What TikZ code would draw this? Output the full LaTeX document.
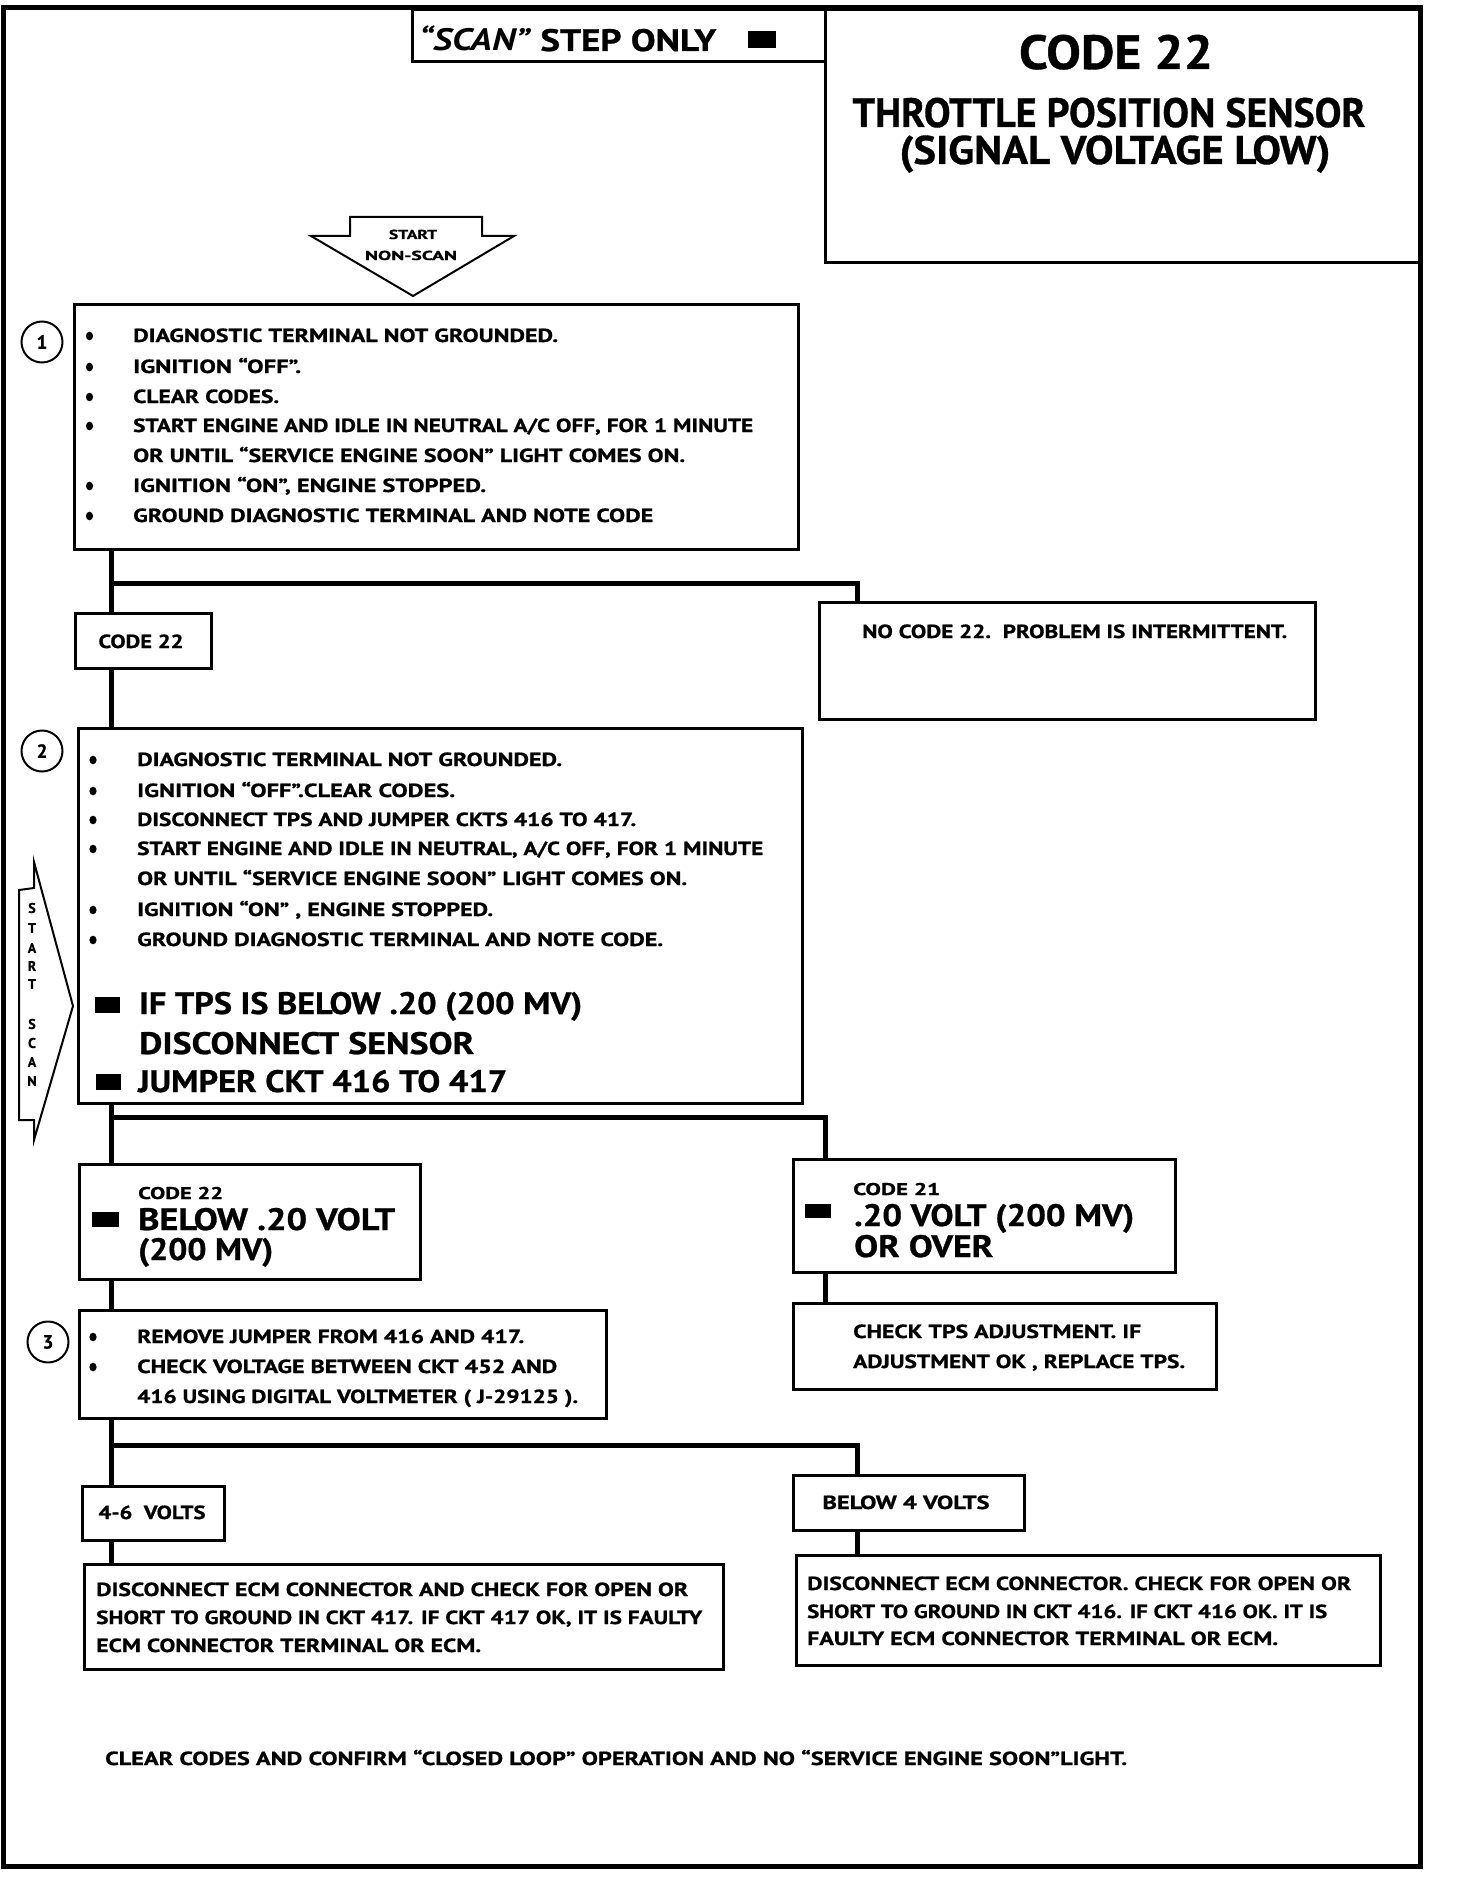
\documentclass[tikz,border=0pt]{standalone}
\usepackage{fontspec}
\setmainfont{PT Sans}[BoldFeatures={FakeBold=0.8}]
\usepackage{graphicx}
\newcommand\fw[2]{\resizebox{#1pt}{\height}{#2}}
\tikzset{
  box/.style={draw, line width=3pt, rectangle, anchor=north west, inner sep=0pt},
  conn/.style={line width=5pt, line cap=rect, line join=miter},
  txt/.style={anchor=base west, inner sep=0pt, font=\bfseries\fontsize{19}{22}\selectfont},
  ctxt/.style={anchor=base, inner sep=0pt, font=\bfseries\fontsize{19}{22}\selectfont},
  small/.style={anchor=base west, inner sep=0pt, font=\bfseries\fontsize{17}{20}\selectfont},
  big/.style={anchor=base west, inner sep=0pt, font=\bfseries\fontsize{31}{36}\selectfont},
  circ/.style={draw, circle, line width=2pt, minimum size=41pt, inner sep=0pt, font=\bfseries\fontsize{19}{22}\selectfont},
  vlet/.style={anchor=center, inner sep=0pt, font=\bfseries\fontsize{14}{16}\selectfont},
}
\newcommand\bul[2]{\fill (#1,#2) ellipse (3.6 and 4.3);}
\begin{document}
\begin{tikzpicture}[x=1pt,y=-1pt]
\useasboundingbox (0,0) rectangle (1456,1878);
\fill[white] (0,0) rectangle (1456,1878);
% outer frame
\draw[line width=5pt] (3,8) rectangle (1420,1866);

% header boxes
\node[box, minimum width=413pt, minimum height=52pt] (sc) at (411,8) {};
\node[box, minimum width=596pt, minimum height=253pt] (tt) at (824,8) {};
\node[anchor=base west, inner sep=0pt, font=\bfseries\fontsize{31}{36}\selectfont] (scant) at (419,51)
  {\fw{297}{\textit{“SCAN”} STEP ONLY}};
\fill (748,31) rectangle (776,48);
\node[ctxt, font=\bfseries\fontsize{48}{56}\selectfont] (h1) at (1116,69) {\fw{194}{CODE 22}};
\node[ctxt, font=\bfseries\fontsize{41}{48}\selectfont] (h2) at (1109,127) {\fw{513}{THROTTLE POSITION SENSOR}};
\node[ctxt, font=\bfseries\fontsize{40}{48}\selectfont] (h3) at (1115,164) {\fw{431}{(SIGNAL VOLTAGE LOW)}};

% start non-scan arrow
\draw[line width=2pt] (350,217) -- (482,217) -- (482,236) -- (514,236) -- (413,296) -- (311,236) -- (350,236) -- cycle;
\node[ctxt, font=\bfseries\fontsize{13}{15}\selectfont] (st1) at (413,239) {\fw{48}{START}};
\node[ctxt, font=\bfseries\fontsize{13}{15}\selectfont] (st2) at (411,260) {\fw{92}{NON-SCAN}};

% step 1
\node[circ] (n1) at (42,342) {1};
\node[box, minimum width=724pt, minimum height=245pt] (s1) at (73,303) {};
\bul{89.5}{336} \bul{89.5}{367} \bul{89.5}{397} \bul{89.5}{426} \bul{89.5}{486} \bul{89.5}{516}
\node[txt] (s1a) at (133,342) {\fw{425}{DIAGNOSTIC TERMINAL NOT GROUNDED.}};
\node[txt] (s1b) at (133,373) {\fw{168}{IGNITION “OFF”.}};
\node[txt] (s1c) at (133,403) {\fw{146}{CLEAR CODES.}};
\node[txt] (s1d) at (133,432) {\fw{620}{START ENGINE AND IDLE IN NEUTRAL A/C OFF, FOR 1 MINUTE}};
\node[txt] (s1e) at (133,462) {\fw{552}{OR UNTIL “SERVICE ENGINE SOON” LIGHT COMES ON.}};
\node[txt] (s1f) at (133,492) {\fw{353}{IGNITION “ON”, ENGINE STOPPED.}};
\node[txt] (s1g) at (133,522) {\fw{520}{GROUND DIAGNOSTIC TERMINAL AND NOTE CODE}};

% branch 1
\node[box, minimum width=136pt, minimum height=55pt] (cA) at (74,612) {};
\node[ctxt] (cAt) at (141,648) {\fw{85}{CODE 22}};
\node[box, minimum width=496pt, minimum height=117pt] (nc) at (818,601) {};
\node[txt] (nct) at (862,638) {\fw{425}{NO CODE 22.\ \ PROBLEM IS INTERMITTENT.}};
\coordinate (j1) at (111,583);
\coordinate (j1r) at (857,583);

% step 2
\node[circ] (n2) at (42,751) {2};
\node[box, minimum width=724pt, minimum height=375pt] (s2) at (77,727) {};
\draw[conn] (j1 |- s1.south) -- (j1 |- cA.north);
\draw[conn] (j1) -- (j1r) -- (j1r |- nc.north);
\draw[conn] (j1 |- cA.south) -- (j1 |- s2.north);
\bul{93}{760} \bul{93}{791} \bul{93}{820} \bul{93}{849} \bul{93}{910} \bul{93}{940}
\node[txt] (s2a) at (137,766) {\fw{425}{DIAGNOSTIC TERMINAL NOT GROUNDED.}};
\node[txt] (s2b) at (137,797) {\fw{318}{IGNITION “OFF”.CLEAR CODES.}};
\node[txt] (s2c) at (137,826) {\fw{499}{DISCONNECT TPS AND JUMPER CKTS 416 TO 417.}};
\node[txt] (s2d) at (137,855) {\fw{626}{START ENGINE AND IDLE IN NEUTRAL, A/C OFF, FOR 1 MINUTE}};
\node[txt] (s2e) at (137,885) {\fw{550}{OR UNTIL “SERVICE ENGINE SOON” LIGHT COMES ON.}};
\node[txt] (s2f) at (137,916) {\fw{356}{IGNITION “ON” , ENGINE STOPPED.}};
\node[txt] (s2g) at (137,946) {\fw{526}{GROUND DIAGNOSTIC TERMINAL AND NOTE CODE.}};
\fill (95,997) rectangle (120,1013);
\node[big] (s2h) at (139,1014) {\fw{443}{IF TPS IS BELOW .20 (200 MV)}};
\node[big] (s2i) at (139,1054) {\fw{335}{DISCONNECT SENSOR}};
\fill (96,1074) rectangle (121,1090);
\node[big] (s2j) at (138,1092) {\fw{369}{JUMPER CKT 416 TO 417}};

% start scan arrow
\draw[line width=2pt] (19,890) -- (34,888) -- (34,862) -- (73,1006) -- (34,1140) -- (34,1120) -- (19,1120) -- cycle;
\node[vlet] (ss1) at (32,908) {S};
\node[vlet] (ss2) at (32,928) {T};
\node[vlet] (ss3) at (32,948) {A};
\node[vlet] (ss4) at (32,966) {R};
\node[vlet] (ss5) at (32,984) {T};
\node[vlet] (ss6) at (32,1024) {S};
\node[vlet] (ss7) at (32,1043) {C};
\node[vlet] (ss8) at (32,1062) {A};
\node[vlet] (ss9) at (32,1081) {N};

% branch 2
\node[box, minimum width=341pt, minimum height=115pt] (cB) at (78,1163) {};
\node[small] (cB1) at (138,1199) {\fw{85}{CODE 22}};
\fill (92,1212) rectangle (119,1227);
\node[big] (cB2) at (138,1230) {\fw{257}{BELOW .20 VOLT}};
\node[big] (cB3) at (138,1260) {\fw{135}{(200 MV)}};
\node[box, minimum width=382pt, minimum height=113pt] (cC) at (792,1158) {};
\node[small] (cC1) at (853,1195) {\fw{87}{CODE 21}};
\fill (805,1204) rectangle (831,1218);
\node[big] (cC2) at (854,1226) {\fw{280}{.20 VOLT (200 MV)}};
\node[big] (cC3) at (854,1257) {\fw{139}{OR OVER}};
\coordinate (j2) at (111,1117);
\coordinate (j2r) at (825,1117);
\draw[conn] (j2 |- s2.south) -- (j2 |- cB.north);
\draw[conn] (j2) -- (j2r) -- (j2r |- cC.north);

% step 3
\node[circ] (n3) at (48,1342) {3};
\node[box, minimum width=527pt, minimum height=108pt] (s3) at (78,1309) {};
\bul{93}{1337} \bul{93}{1367}
\node[txt] (s3a) at (137,1343) {\fw{387}{REMOVE JUMPER FROM 416 AND 417.}};
\node[txt] (s3b) at (137,1373) {\fw{420}{CHECK VOLTAGE BETWEEN CKT 452 AND}};
\node[txt] (s3c) at (137,1403) {\fw{441}{416 USING DIGITAL VOLTMETER ( J-29125 ).}};
\node[box, minimum width=423pt, minimum height=86pt] (chk) at (792,1302) {};
\node[txt] (chk1) at (853,1338) {\fw{288}{CHECK TPS ADJUSTMENT. IF}};
\node[txt] (chk2) at (853,1368) {\fw{332}{ADJUSTMENT OK , REPLACE TPS.}};
\draw[conn] (j2 |- cB.south) -- (j2 |- s3.north);
\draw[conn] (j2r |- cC.south) -- (j2r |- chk.north);

% branch 3
\node[box, minimum width=142pt, minimum height=54pt] (v46) at (81,1485) {};
\node[ctxt] (v46t) at (152,1519) {\fw{107}{4-6\ \ VOLTS}};
\node[box, minimum width=231pt, minimum height=55pt] (b4) at (792,1474) {};
\node[ctxt] (b4t) at (906,1509) {\fw{167}{BELOW 4 VOLTS}};
\coordinate (j3) at (111,1445);
\coordinate (j3r) at (857,1445);
\draw[conn] (j3 |- s3.south) -- (j3 |- v46.north);
\draw[conn] (j3) -- (j3r) -- (j3r |- b4.north);

\node[box, minimum width=639pt, minimum height=105pt] (ll) at (83,1563) {};
\node[txt] (ll1) at (96,1596) {\fw{592}{DISCONNECT ECM CONNECTOR AND CHECK FOR OPEN OR}};
\node[txt] (ll2) at (96,1624) {\fw{606}{SHORT TO GROUND IN CKT 417. IF CKT 417 OK, IT IS FAULTY}};
\node[txt] (ll3) at (96,1652) {\fw{385}{ECM CONNECTOR TERMINAL OR ECM.}};
\node[box, minimum width=584pt, minimum height=110pt] (lr) at (795,1554) {};
\node[txt] (lr1) at (807,1590) {\fw{544}{DISCONNECT ECM CONNECTOR. CHECK FOR OPEN OR}};
\node[txt] (lr2) at (807,1618) {\fw{520}{SHORT TO GROUND IN CKT 416. IF CKT 416 OK. IT IS}};
\node[txt] (lr3) at (807,1645) {\fw{471}{FAULTY ECM CONNECTOR TERMINAL OR ECM.}};
\draw[conn] (j3 |- v46.south) -- (j3 |- ll.north);
\draw[conn] (j3r |- b4.south) -- (j3r |- lr.north);

% final note
\node[txt] (fin) at (105,1765) {\fw{1022}{CLEAR CODES AND CONFIRM “CLOSED LOOP” OPERATION AND NO “SERVICE ENGINE SOON”LIGHT.}};
\end{tikzpicture}
\end{document}
